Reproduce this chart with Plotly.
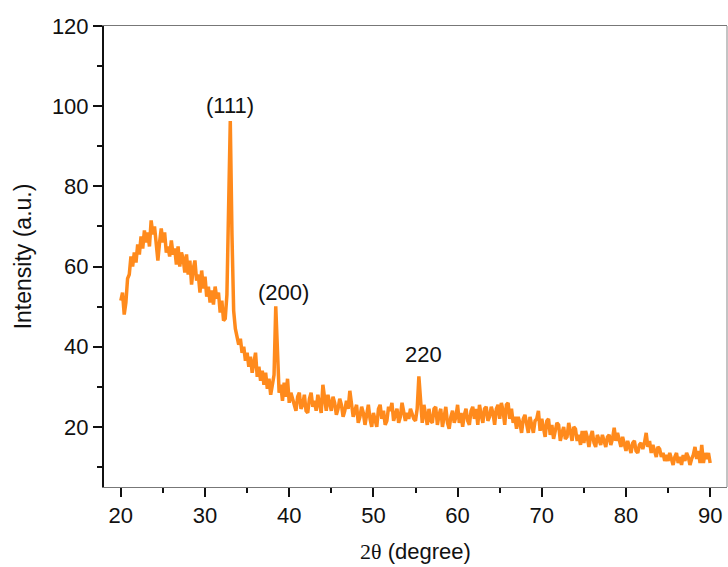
import numpy as np
import plotly.graph_objects as go

# XRD scan: 2-theta from 20 to 90 degrees in 0.2 degree steps
two_theta_start = 20.0
two_theta_step = 0.2

# Measured intensity (a.u.), one row per degree (5 points per row)
intensity = [
    51.5, 53.5, 48.0, 51.0, 57.0,   # 20
    58.0, 62.5, 60.0, 63.5, 61.0,   # 21
    65.5, 63.0, 67.5, 64.5, 69.0,   # 22
    66.0, 68.5, 65.0, 71.5, 68.0,   # 23
    70.0, 64.5, 61.5, 66.0, 69.5,   # 24
    66.0, 68.5, 63.5, 65.0, 62.5,   # 25
    66.5, 63.0, 64.5, 60.5, 65.0,   # 26
    60.0, 63.5, 62.0, 58.5, 63.0,   # 27
    58.0, 61.5, 55.5, 59.5, 61.5,   # 28
    56.5, 58.0, 53.5, 59.0, 54.5,   # 29
    57.5, 52.5, 55.0, 51.0, 54.0,   # 30
    50.5, 55.0, 52.0, 53.5, 48.5,   # 31
    51.5, 46.5, 47.0, 53.0, 72.0,   # 32
    96.3, 68.0, 49.0, 44.5, 42.5,   # 33
    40.5, 42.0, 38.5, 40.0, 36.5,   # 34
    38.5, 35.0, 37.5, 33.5, 36.0,   # 35
    38.5, 32.5, 35.0, 31.5, 34.0,   # 36
    30.5, 33.5, 29.5, 32.0, 28.0,   # 37
    31.0, 33.0, 50.1, 36.5, 28.5,   # 38
    30.5, 26.5, 31.0, 27.5, 32.0,   # 39
    26.0, 28.5, 27.0, 25.0, 24.0,   # 40
    27.5, 28.5, 24.5, 25.5, 28.0,   # 41
    24.0, 23.5, 27.0, 28.5, 25.0,   # 42
    26.5, 24.0, 28.0, 26.0, 23.5,   # 43
    30.5, 26.5, 24.0, 28.0, 26.0,   # 44
    24.0, 27.5, 26.0, 23.0, 24.5,   # 45
    27.0, 25.5, 22.5, 24.0, 26.5,   # 46
    24.5, 29.0, 25.0, 22.5, 24.0,   # 47
    25.5, 21.0, 22.5, 25.0, 23.5,   # 48
    20.5, 23.0, 25.5, 22.0, 20.0,   # 49
    23.5, 21.5, 20.0, 24.5, 25.5,   # 50
    22.0, 24.0, 20.5, 21.5, 25.0,   # 51
    24.0, 26.0, 21.5, 23.0, 24.5,   # 52
    21.0, 22.5, 26.0, 24.0, 21.5,   # 53
    23.5, 22.0, 24.5, 23.0, 22.0,   # 54
    21.5, 24.5, 32.6, 27.0, 21.0,   # 55
    25.5, 23.0, 20.5, 24.5, 21.5,   # 56
    21.0, 24.5, 25.0, 20.5, 23.0,   # 57
    24.5, 20.0, 22.5, 25.0, 21.0,   # 58
    19.5, 22.5, 24.0, 21.0, 22.5,   # 59
    25.5, 21.0, 23.5, 20.0, 23.0,   # 60
    24.5, 21.5, 20.5, 24.0, 25.0,   # 61
    22.0, 24.5, 20.5, 25.5, 23.0,   # 62
    21.0, 24.5, 25.0, 21.5, 22.5,   # 63
    25.0, 23.5, 20.5, 24.5, 25.5,   # 64
    22.0, 26.0, 24.0, 20.5, 25.5,   # 65
    26.0, 22.0, 24.5, 21.0, 22.5,   # 66
    19.5, 22.5, 21.0, 18.5, 22.0,   # 67
    23.0, 20.0, 18.5, 22.5, 20.5,   # 68
    18.5, 21.5, 22.0, 24.0, 19.0,   # 69
    22.0, 20.0, 17.5, 21.5, 22.0,   # 70
    18.0, 20.5, 17.0, 19.5, 21.0,   # 71
    20.5, 16.5, 18.5, 20.0, 17.0,   # 72
    17.5, 21.0, 19.0, 16.5, 20.0,   # 73
    19.5, 16.5, 18.0, 15.5, 19.0,   # 74
    16.0, 19.0, 17.5, 15.0, 17.5,   # 75
    19.0, 16.0, 15.0, 18.0, 17.0,   # 76
    15.5, 18.0, 16.5, 15.0, 17.5,   # 77
    18.0, 15.5, 17.0, 19.8, 16.5,   # 78
    18.5, 17.0, 15.0, 17.5, 16.0,   # 79
    14.0, 16.5, 15.0, 13.5, 16.0,   # 80
    16.5, 14.0, 13.5, 15.5, 16.0,   # 81
    14.5, 16.0, 18.5, 15.0, 16.5,   # 82
    13.5, 15.5, 14.0, 12.5, 15.0,   # 83
    14.5, 12.5, 13.5, 11.5, 13.0,   # 84
    11.5, 13.5, 12.0, 10.5, 12.5,   # 85
    13.5, 11.0, 12.5, 10.5, 13.0,   # 86
    11.5, 13.5, 12.5, 10.5, 12.0,   # 87
    13.0, 15.0, 12.0, 14.0, 11.0,   # 88
    15.5, 11.0, 13.5, 12.0, 13.5,   # 89
    11.0,                           # 90
]

two_theta = np.round(two_theta_start + two_theta_step * np.arange(len(intensity)), 1)

# Indexed reflections
peak_labels = ["(111)", "(200)", "220"]
peak_positions = [33.0, 38.4, 55.4]

font_family = "Liberation Sans, Arial, sans-serif"

fig = go.Figure()
fig.add_trace(go.Scatter(
    x=two_theta, y=intensity, mode="lines",
    line=dict(color="#FF8A1C", width=3.5),
    showlegend=False,
))

peak_heights = [intensity[int(round((p - two_theta_start) / two_theta_step))] for p in peak_positions]
label_shifts = [(0, 1), (8, -1), (5, 7)]
for label, px, py, (dx, dy) in zip(peak_labels, peak_positions, peak_heights, label_shifts):
    fig.add_annotation(
        x=px, y=py, text=label, showarrow=False,
        xanchor="center", yanchor="bottom", xshift=dx, yshift=dy,
        font=dict(family=font_family, size=22, color="#111"),
    )

# thin frame on the right
fig.add_shape(type="line", xref="paper", yref="paper", x0=1, x1=1, y0=0, y1=1,
              line=dict(color="#888", width=1))

fig.update_layout(
    width=728, height=567,
    margin=dict(l=104, r=1, t=26, b=80),
    paper_bgcolor="white", plot_bgcolor="white",
    font=dict(family=font_family, size=22, color="#111"),
    xaxis=dict(
        range=[18, 92], tickmode="array", tickvals=[20, 30, 40, 50, 60, 70, 80, 90],
        ticks="outside", ticklen=9, tickwidth=2, tickcolor="#111",
        minor=dict(tickvals=[25, 35, 45, 55, 65, 75, 85], ticks="outside", ticklen=5, tickwidth=2, tickcolor="#111"),
        showline=True, linecolor="#777", linewidth=1, mirror=True,
        showgrid=False, zeroline=False,
        tickfont=dict(size=22),
        title=dict(text="<span style=\"font-family:'Liberation Serif', serif\">2θ</span> (degree)",
                   font=dict(size=22), standoff=16),
    ),
    yaxis=dict(
        range=[5, 120], tickmode="array", tickvals=[20, 40, 60, 80, 100, 120],
        ticks="outside", ticklen=9, tickwidth=2, tickcolor="#111",
        minor=dict(tickvals=[10, 30, 50, 70, 90, 110], ticks="outside", ticklen=5, tickwidth=2, tickcolor="#111"),
        showline=True, linecolor="#111", linewidth=2,
        showgrid=False, zeroline=False,
        tickfont=dict(size=22),
        title=dict(text="Intensity (a.u.)", font=dict(size=23), standoff=14),
    ),
)

fig.write_html("out.html")
